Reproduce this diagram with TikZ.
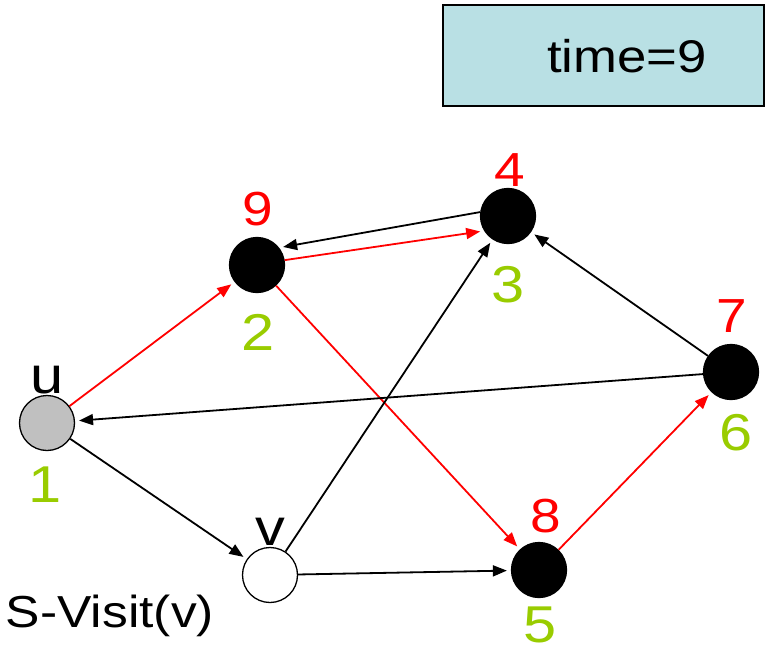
\documentclass[tikz,border=0pt]{standalone}
\usepackage{fontspec}
\setmainfont[FakeStretch=1.15]{Liberation Sans}
\usetikzlibrary{arrows.meta,calc}
\definecolor{ngreen}{HTML}{99CC00}
\definecolor{nred}{HTML}{FF0000}
\definecolor{boxfill}{HTML}{B9E0E4}
\definecolor{ugray}{HTML}{C0C0C0}
\tikzset{
  vtx/.style={circle,draw=black,line width=1.3bp,minimum size=55bp,inner sep=0pt},
  blackv/.style={vtx,fill=black},
  edge/.style={line width=1.8bp,-{Triangle[length=14bp,width=11bp]},shorten >=4bp},
  rededge/.style={edge,draw=nred,-{Triangle[length=14bp,width=11bp,fill=nred]}},
  blkedge/.style={edge,draw=black},
  dnum/.style={anchor=base,inner sep=0pt,text=nred,font=\fontsize{48}{48}\selectfont},
  fnum/.style={anchor=base,inner sep=0pt,text=ngreen,font=\fontsize{52}{52}\selectfont},
  vlab/.style={anchor=base,inner sep=0pt,font=\fontsize{52}{52}\selectfont},
}
\begin{document}
\begin{tikzpicture}[x=1bp,y=-1bp]
\useasboundingbox (0,0) rectangle (769,650);
% time box
\node[draw=black,line width=1.6bp,fill=boxfill,minimum width=321bp,minimum height=101bp,inner sep=0pt] (tbox) at (603.5,55.5) {};
\node[anchor=base,inner sep=0pt,font=\fontsize{46}{46}\selectfont] (ttext) at (627,73) {time=9};
% vertices
\node[vtx,fill=ugray] (u) at (47,423) {};
\node[blackv] (n2) at (257,265) {};
\node[blackv] (n3) at (508,216) {};
\node[blackv] (n6) at (731,372) {};
\node[blackv] (n5) at (539,570) {};
\node[vtx,fill=white] (v) at (270,575) {};
% labels
\node[vlab] (lu) at (47,393) {u};
\node[vlab] (lv) at (270,545) {v};
\node[fnum] (f1) at (45,502) {1};
\node[fnum] (f2) at (258,350) {2};
\node[fnum] (f3) at (508,302) {3};
\node[fnum] (f6) at (736,450) {6};
\node[fnum] (f5) at (540,642) {5};
\node[dnum] (d9) at (258,225) {9};
\node[dnum] (d4) at (510,186) {4};
\node[dnum] (d7) at (732,332) {7};
\node[dnum] (d8) at (546,532) {8};
\node[anchor=base,inner sep=0pt,font=\fontsize{45}{45}\selectfont] (sv) at (110,627) {S-Visit(v)};
% edges
\draw[rededge] (u) -- (n2);
\draw[rededge] (n2.10) -- (n3.212);
\draw[blkedge] (n3.172) -- (n2.38);
\draw[rededge] (n2) -- (n5);
\draw[rededge] (n5) -- (n6);
\draw[blkedge] (n6) -- (n3);
\draw[blkedge] (n6) -- (u);
\draw[blkedge] (u) -- (v);
\draw[blkedge] (v) -- (n3);
\draw[blkedge] (v) -- (n5);
\end{tikzpicture}
\end{document}
